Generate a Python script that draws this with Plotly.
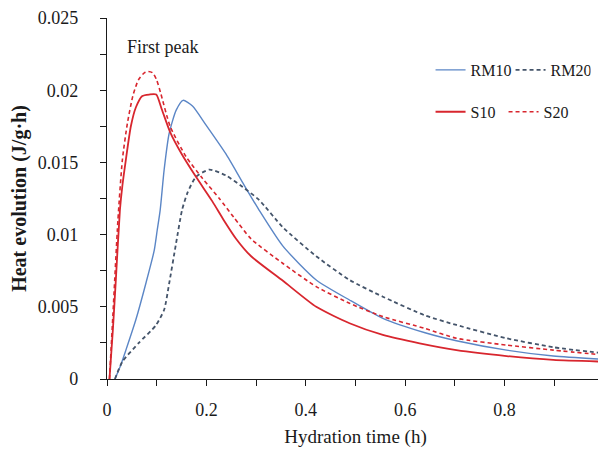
import plotly.graph_objects as go

# Hydration time (h) and heat evolution (J/g·h)
s10_x = [0.005, 0.012, 0.018, 0.026, 0.031, 0.038, 0.048, 0.058, 0.071, 0.085, 0.099, 0.110, 0.127, 0.150,
         0.179, 0.212, 0.235, 0.260, 0.290, 0.354, 0.421, 0.488, 0.555, 0.629, 0.703, 0.804, 0.898, 1.0]
s10_y = [0.0, 0.0035, 0.0070, 0.0117, 0.0134, 0.0152, 0.0175, 0.0188, 0.0196, 0.0197, 0.0197, 0.0187, 0.0171, 0.0156,
         0.0140, 0.0123, 0.0110, 0.0097, 0.0085, 0.00680, 0.0050, 0.00386, 0.00305, 0.00247, 0.0020, 0.00159, 0.00132, 0.0012]

s20_x = [0.005, 0.012, 0.022, 0.031, 0.041, 0.052, 0.063, 0.075, 0.083, 0.092, 0.100, 0.108, 0.127, 0.159,
         0.192, 0.226, 0.255, 0.290, 0.354, 0.421, 0.488, 0.555, 0.64, 0.703, 0.804, 0.898, 1.0]
s20_y = [0.0, 0.0045, 0.0110, 0.0152, 0.0177, 0.0196, 0.0207, 0.0212, 0.0213, 0.0212, 0.0207, 0.0198, 0.0175, 0.0154,
         0.0139, 0.0125, 0.0112, 0.0097, 0.0080, 0.0064, 0.00524, 0.00432, 0.0035, 0.00282, 0.00235, 0.0020, 0.00166]

rm10_x = [0.016, 0.027, 0.038, 0.058, 0.078, 0.095, 0.101, 0.107, 0.115, 0.125, 0.139, 0.153, 0.172, 0.199,
          0.239, 0.273, 0.306, 0.354, 0.421, 0.488, 0.555, 0.64, 0.703, 0.804, 0.898, 1.0]
rm10_y = [0.0, 0.0009, 0.0020, 0.0041, 0.0066, 0.0089, 0.0103, 0.0117, 0.0145, 0.0170, 0.0186, 0.0193, 0.0189, 0.0176,
          0.0156, 0.0136, 0.0117, 0.0092, 0.00686, 0.00547, 0.0042, 0.0032, 0.00265, 0.0020, 0.00159, 0.00136]

rm20_x = [0.016, 0.031, 0.064, 0.098, 0.115, 0.125, 0.139, 0.151, 0.162, 0.179, 0.206, 0.239, 0.273, 0.306,
          0.354, 0.421, 0.488, 0.555, 0.64, 0.703, 0.804, 0.898, 1.0]
rm20_y = [0.0, 0.0012, 0.0025, 0.0037, 0.0048, 0.0066, 0.0094, 0.0117, 0.0129, 0.0140, 0.0145, 0.0141, 0.0133, 0.0124,
          0.0105, 0.0085, 0.00686, 0.0057, 0.0044, 0.00374, 0.00282, 0.0022, 0.00178]

x_ticks = [0, 0.2, 0.4, 0.6, 0.8, 1.0]
x_labels = ["0", "0.2", "0.4", "0.6", "0.8", "1"]
y_ticks = [0, 0.005, 0.01, 0.015, 0.02, 0.025]
y_labels = ["0", "0.005", "0.01", "0.015", "0.02", "0.025"]

FONT = "Liberation Serif"
RED = "#d8262e"
BLUE = "#5b86c6"
DARK = "#44546a"
INK = "#1a1a1a"

fig = go.Figure()
fig.add_trace(go.Scatter(x=rm10_x, y=rm10_y, name="RM10", mode="lines", legend="legend",
                         line=dict(color=BLUE, width=1.4, shape="spline", smoothing=0.6)))
fig.add_trace(go.Scatter(x=rm20_x, y=rm20_y, name="RM20", mode="lines", legend="legend",
                         line=dict(color=DARK, width=1.8, dash="4px,3px", shape="spline", smoothing=0.6)))
fig.add_trace(go.Scatter(x=s10_x, y=s10_y, name="S10", mode="lines", legend="legend2",
                         line=dict(color=RED, width=1.8, shape="spline", smoothing=0.6)))
fig.add_trace(go.Scatter(x=s20_x, y=s20_y, name="S20", mode="lines", legend="legend2",
                         line=dict(color=RED, width=1.6, dash="4px,3px", shape="spline", smoothing=0.6)))

# the page body adds an 8px offset, so the figure is sized/margined to compensate
fig.update_layout(
    width=598, height=442,
    margin=dict(l=99, r=2, t=10, b=71, autoexpand=False),
    paper_bgcolor="white", plot_bgcolor="white",
    font=dict(family=FONT, size=18, color=INK),
    legend=dict(orientation="h", x=0.651, y=0.856, xanchor="left", yanchor="middle",
                entrywidth=35, entrywidthmode="pixels",
                font=dict(family=FONT, size=16), bgcolor="rgba(0,0,0,0)"),
    legend2=dict(orientation="h", x=0.651, y=0.740, xanchor="left", yanchor="middle",
                 entrywidth=28, entrywidthmode="pixels",
                 font=dict(family=FONT, size=16), bgcolor="rgba(0,0,0,0)"),
    xaxis=dict(range=[0, 1], tickvals=x_ticks, ticktext=x_labels, showgrid=False, zeroline=False,
               automargin=False, ticklabeloverflow="allow",
               showline=True, linecolor=INK, linewidth=1.2, ticks="outside", ticklen=6,
               tickcolor=INK, tickwidth=1.2, ticklabelstandoff=8,
               minor=dict(dtick=0.1, tick0=0, ticks="outside", ticklen=6, tickcolor=INK, tickwidth=1.2),
               title=dict(text="Hydration time (h)", font=dict(family=FONT, size=19), standoff=10),
               tickfont=dict(family=FONT, size=18)),
    yaxis=dict(range=[0, 0.025], tickvals=y_ticks, ticktext=y_labels, showgrid=False, zeroline=False,
               automargin=False,
               showline=True, linecolor=INK, linewidth=1.2, ticks="outside", ticklen=6,
               tickcolor=INK, tickwidth=1.2, ticklabelstandoff=18,
               minor=dict(dtick=0.0025, tick0=0, ticks="outside", ticklen=6, tickcolor=INK, tickwidth=1.2),
               title=dict(text="<b>Heat evolution (J/g·h)</b>", font=dict(family=FONT, size=20), standoff=8),
               tickfont=dict(family=FONT, size=18)),
    annotations=[dict(text="First peak", x=0.036, y=0.92, xref="paper", yref="paper",
                      xanchor="left", yanchor="middle", showarrow=False,
                      font=dict(family=FONT, size=18, color=INK))],
)

fig.write_html("out.html")
